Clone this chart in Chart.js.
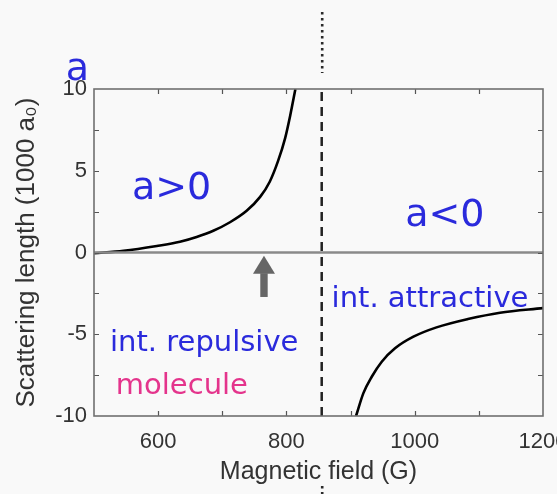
<!DOCTYPE html>
<html><head><meta charset="utf-8">
<script src="https://cdn.jsdelivr.net/npm/chart.js@4.4.0/dist/chart.umd.min.js"></script>
<style>html,body{margin:0;padding:0;background:#f9f9f9;}#wrap{width:557px;height:494px;}</style>
</head><body><div id="wrap"><canvas id="c" width="557" height="494"></canvas></div>
<script>
// ---- data ----
const fieldLow = [500, 546, 598, 634, 660, 686, 712, 738, 759, 774, 787, 798, 806, 814];
const scatLow  = [-0.05, 0.1, 0.4, 0.66, 0.95, 1.33, 1.85, 2.55, 3.4, 4.33, 5.6, 7.0, 8.4, 10];
const fieldHigh = [908.5, 920, 933, 948.6, 969.3, 998, 1034, 1083, 1133, 1200];
const scatHigh  = [-10, -8.6, -7.6, -6.68, -5.86, -5.15, -4.58, -4.07, -3.68, -3.4];
const resonanceField = 855;
const xRange = [500, 1200];
const yRange = [-10, 10];
const xTickLabels = [600, 800, 1000, 1200];
const yTickLabels = [-10, -5, 0, 5, 10];
const arrowField = 765;

const toPts = (xs, ys) => xs.map((x, i) => ({x: x, y: ys[i]}));
const BLUE = 'rgb(42,42,220)';
const MAGENTA = 'rgb(228,52,140)';
const TXT = '"DejaVu Sans", sans-serif';
const AX = '"Liberation Sans", Arial, sans-serif';

const decor = {
  id: 'decor',
  afterDatasetsDraw(chart) {
    const ctx = chart.ctx, xs = chart.scales.x, ys = chart.scales.y, ca = chart.chartArea;
    ctx.save();
    // inner ticks
    ctx.strokeStyle = '#555'; ctx.lineWidth = 1.2;
    xs.ticks.forEach(t => {
      if (t.value <= xRange[0] || t.value >= xRange[1]) return;
      const p = Math.round(xs.getPixelForValue(t.value)) + 0.5;
      ctx.beginPath(); ctx.moveTo(p, ca.bottom); ctx.lineTo(p, ca.bottom - 5);
      ctx.moveTo(p, ca.top); ctx.lineTo(p, ca.top + 5); ctx.stroke();
    });
    ys.ticks.forEach(t => {
      if (t.value <= yRange[0] || t.value >= yRange[1]) return;
      const p = Math.round(ys.getPixelForValue(t.value)) + 0.5;
      ctx.beginPath(); ctx.moveTo(ca.left, p); ctx.lineTo(ca.left + 5, p);
      ctx.moveTo(ca.right, p); ctx.lineTo(ca.right - 5, p); ctx.stroke();
    });
    // frame
    ctx.strokeStyle = '#707070'; ctx.lineWidth = 1.6;
    ctx.strokeRect(ca.left, ca.top, ca.right - ca.left, ca.bottom - ca.top);
    // dotted resonance continuation outside the frame
    const rx = xs.getPixelForValue(resonanceField) + 0.5;
    ctx.strokeStyle = '#2a2a2a'; ctx.lineWidth = 2.6; ctx.setLineDash([2.6, 3.4]);
    ctx.beginPath(); ctx.moveTo(rx, 12); ctx.lineTo(rx, 73);
    ctx.moveTo(rx, ca.bottom + 70); ctx.lineTo(rx, 494); ctx.stroke();
    ctx.setLineDash([]);
    // arrow
    const ax = xs.getPixelForValue(arrowField);
    const aTop = ys.getPixelForValue(-0.2), aHead = ys.getPixelForValue(-1.3), aBot = ys.getPixelForValue(-2.72);
    ctx.fillStyle = '#666';
    ctx.beginPath(); ctx.moveTo(ax, aTop); ctx.lineTo(ax + 11, aHead); ctx.lineTo(ax - 11, aHead); ctx.closePath(); ctx.fill();
    ctx.fillRect(ax - 3.7, aHead - 0.5, 7.4, aBot - aHead + 0.5);
    // texts
    const put = (txt, x, y, size, color, align) => {
      ctx.font = size + 'px ' + TXT; ctx.fillStyle = color; ctx.textAlign = align; ctx.textBaseline = 'alphabetic';
      ctx.fillText(txt, xs.getPixelForValue(x), ys.getPixelForValue(y));
    };
    put('a', 456, 10.55, 38, BLUE, 'left');
    put('a>0', 621, 3.29, 38, BLUE, 'center');
    put('a<0', 1047, 1.65, 38, BLUE, 'center');
    put('int. attractive', 870.4, -3.32, 29, BLUE, 'left');
    put('int. repulsive', 525, -6.0, 29, BLUE, 'left');
    put('molecule', 534, -8.65, 29, MAGENTA, 'left');
    ctx.restore();
  }
};

new Chart(document.getElementById('c'), {
  type: 'scatter',
  data: {
    datasets: [
      {data: toPts(xRange, [0, 0]), showLine: true, borderColor: '#8a8a8a', borderWidth: 2.5, pointRadius: 0},
      {data: toPts([resonanceField, resonanceField], yRange), showLine: true, borderColor: '#222', borderWidth: 2.5, borderDash: [9, 6], pointRadius: 0},
      {data: toPts(fieldLow, scatLow), showLine: true, borderColor: '#000', borderWidth: 2.6, pointRadius: 0, cubicInterpolationMode: 'monotone'},
      {data: toPts(fieldHigh, scatHigh), showLine: true, borderColor: '#000', borderWidth: 2.6, pointRadius: 0, cubicInterpolationMode: 'monotone'}
    ]
  },
  options: {
    responsive: false, animation: false, devicePixelRatio: 1,
    layout: {padding: {top: 89, right: 14, left: 0, bottom: 0}},
    plugins: {legend: {display: false}, tooltip: {enabled: false}},
    scales: {
      x: {
        type: 'linear', min: xRange[0], max: xRange[1],
        grid: {display: false, drawTicks: false}, border: {display: false},
        ticks: {stepSize: 100, autoSkip: false, maxRotation: 0, color: '#333', padding: 13,
          font: {family: AX, size: 22},
          callback: v => xTickLabels.includes(v) ? String(v) : ''},
        title: {display: true, text: 'Magnetic field (G)', color: '#333', font: {family: AX, size: 25}, padding: {top: 0, bottom: 7}},
        afterFit: s => { s.height = 78; s.paddingLeft = 0; s.paddingRight = 0; }
      },
      y: {
        type: 'linear', min: yRange[0], max: yRange[1],
        grid: {display: false, drawTicks: false}, border: {display: false},
        ticks: {stepSize: 2.5, autoSkip: false, color: '#333', padding: 7,
          font: {family: AX, size: 22},
          callback: v => yTickLabels.includes(v) ? String(v) : ''},
        title: {display: true, text: 'Scattering length (1000 a\u2080)', color: '#333', font: {family: AX, size: 26}, padding: {top: 11, bottom: 0}},
        afterFit: s => { s.width = 94; s.paddingTop = 0; s.paddingBottom = 0; }
      }
    }
  },
  plugins: [decor]
});
</script></body></html>
